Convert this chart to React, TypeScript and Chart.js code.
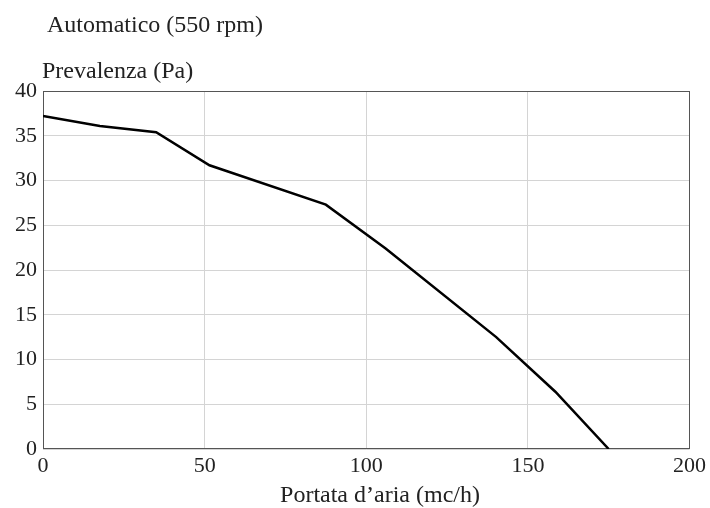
import React, { useEffect, useRef } from "react";
import { Chart, registerables } from "chart.js";

Chart.register(...registerables);

const chartTitle = "Automatico (550 rpm)";
const yAxisTitle = "Prevalenza (Pa)";
const xAxisTitle = "Portata d\u2019aria (mc/h)";

const flowValues = [0, 17.6, 35, 51.5, 87.5, 106, 140.2, 158.5, 175];
const pressureValues = [37.2, 36.1, 35.4, 31.7, 27.3, 22.4, 12.5, 6.4, 0];

const xTicks = [0, 50, 100, 150, 200];
const yTicks = [0, 5, 10, 15, 20, 25, 30, 35, 40];

const FONT = "'Liberation Serif', 'Times New Roman', serif";
const TEXT = "#222222";

export default function App() {
  const ref = useRef<HTMLCanvasElement | null>(null);

  useEffect(() => {
    document.body.style.margin = "0";
    const canvas = ref.current;
    if (!canvas) return;

    const textPlugin = {
      id: "texts",
      afterDraw(chart: any) {
        const ctx = chart.ctx;
        ctx.save();
        ctx.fillStyle = TEXT;
        ctx.textBaseline = "alphabetic";
        ctx.font = `24px ${FONT}`;
        ctx.textAlign = "left";
        ctx.fillText(chartTitle, 47, 32);
        ctx.fillText(yAxisTitle, 42, 78);
        ctx.textAlign = "center";
        ctx.fillText(xAxisTitle, 380, 502);
        ctx.restore();
      },
      beforeDatasetsDraw(chart: any) {
        const { ctx, chartArea } = chart;
        ctx.save();
        ctx.strokeStyle = "#555555";
        ctx.lineWidth = 1;
        const l = Math.round(chartArea.left) + 0.5;
        const t = Math.round(chartArea.top) + 0.5;
        const r = Math.round(chartArea.right) - 0.5;
        const b = Math.round(chartArea.bottom) - 0.5;
        ctx.strokeRect(l, t, r - l, b - t);
        ctx.restore();
      },
    };

    const chart = new Chart(canvas, {
      type: "scatter",
      data: {
        datasets: [
          {
            data: flowValues.map((x, i) => ({ x, y: pressureValues[i] })),
            showLine: true,
            borderColor: "#000000",
            borderWidth: 2.5,
            pointRadius: 0,
            fill: false,
            tension: 0,
          },
        ],
      },
      options: {
        responsive: false,
        animation: false,
        devicePixelRatio: 1,
        layout: { padding: { top: 91, right: 20, left: 0, bottom: 0 } },
        plugins: {
          legend: { display: false },
          tooltip: { enabled: false },
          title: { display: false },
        },
        scales: {
          x: {
            type: "linear",
            min: 0,
            max: 200,
            afterFit(scale: any) {
              scale.height = 59;
            },
            afterBuildTicks(scale: any) {
              scale.ticks = xTicks.map((v) => ({ value: v }));
            },
            grid: { color: "#d4d4d4", lineWidth: 1, drawTicks: false },
            border: { display: false },
            ticks: {
              padding: 4,
              color: TEXT,
              font: { family: FONT, size: 22 },
              maxRotation: 0,
            },
          },
          y: {
            type: "linear",
            min: 0,
            max: 40,
            afterFit(scale: any) {
              scale.width = 43;
            },
            afterBuildTicks(scale: any) {
              scale.ticks = yTicks.map((v) => ({ value: v }));
            },
            grid: { color: "#d4d4d4", lineWidth: 1, drawTicks: false },
            border: { display: false },
            ticks: {
              padding: 6,
              color: TEXT,
              font: { family: FONT, size: 22 },
            },
          },
        },
      },
      plugins: [textPlugin],
    });

    return () => chart.destroy();
  }, []);

  return (
    <div style={{ position: "absolute", left: 0, top: 0, width: 710, height: 508 }}>
      <canvas ref={ref} width={710} height={508} />
    </div>
  );
}
